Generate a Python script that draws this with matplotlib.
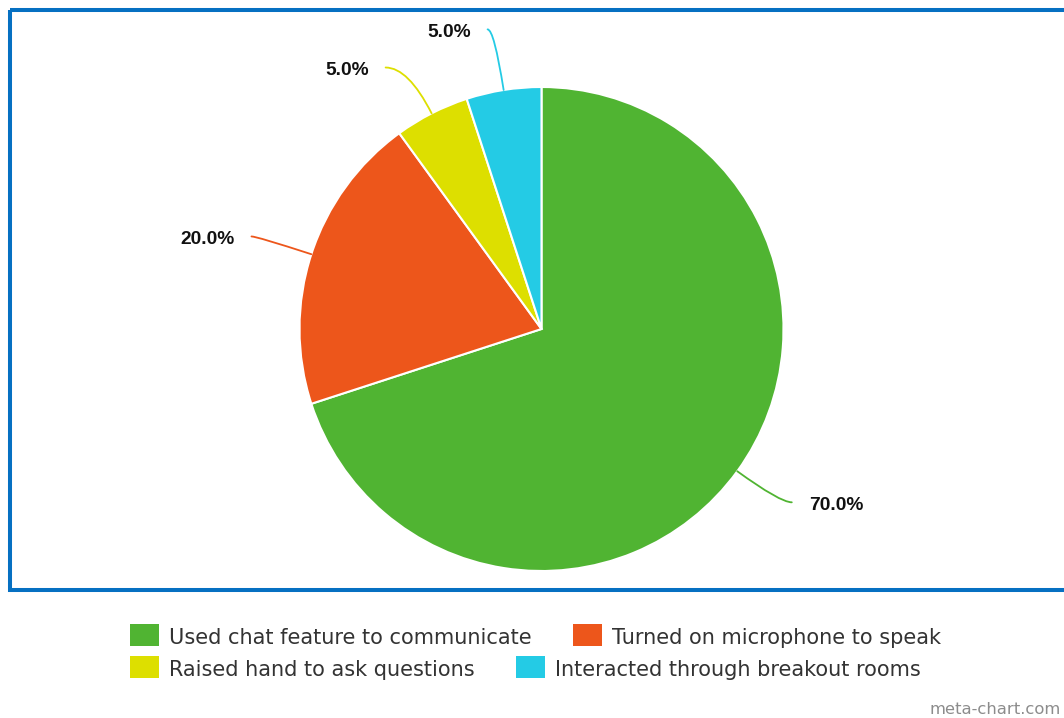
import numpy as np
import matplotlib
matplotlib.use("Agg")
import matplotlib.pyplot as plt
from matplotlib.patches import Rectangle
from matplotlib.path import Path
from matplotlib.patches import PathPatch

# ---- data ----
categories = [
    "Used chat feature to communicate",
    "Turned on microphone to speak",
    "Raised hand to ask questions",
    "Interacted through breakout rooms",
]
shares = [70.0, 20.0, 5.0, 5.0]
colors = ["#50B432", "#ED561B", "#DDDF00", "#24CBE5"]

# small angular nudges (degrees) for the outside label anchors
label_nudge = [-1.3, -0.3, -3.8, -1.2]

W, H, DPI = 1064, 718, 100
fig = plt.figure(figsize=(W / DPI, H / DPI), dpi=DPI)
fig.patch.set_facecolor("white")

# pie geometry in pixels
cx, cy, R = 541.5, 329.0, 242.0

# pie axes: data units of one radius, same scale on both axes
ax = fig.add_axes([0, 0, 1, 1])
wedges, _ = ax.pie(
    shares, colors=colors, startangle=90, counterclock=False, radius=1.0,
    wedgeprops=dict(edgecolor="white", linewidth=1.5),
)
ax.set_aspect("auto")
ax.set_xlim((0 - cx) / R, (W - cx) / R)
ax.set_ylim(-(H - cy) / R, cy / R)
ax.axis("off")

# outside labels with curved connectors
total = sum(shares)
start = 0.0
r_end = 1.258
for val, col, nudge in zip(shares, colors, label_nudge):
    frac = val / total
    mid = (start + frac / 2) * 360.0  # clockwise from top
    start += frac
    a = np.deg2rad(mid)
    p0 = np.array([np.sin(a), np.cos(a)])
    b = np.deg2rad(mid + nudge)
    end = np.array([r_end * np.sin(b), r_end * np.cos(b)])
    # control point: radial line meets the label's horizontal
    t = end[1] / np.cos(a)
    ctrl = np.array([t * np.sin(a), end[1]])
    path = Path([p0, ctrl, end], [Path.MOVETO, Path.CURVE3, Path.CURVE3])
    ax.add_patch(PathPatch(path, fill=False, edgecolor=col, linewidth=1.3,
                           capstyle="round"))
    right = end[0] >= 0
    gap = 17.0 / R
    ax.text(end[0] + (gap if right else -gap), end[1] - 3.0 / R,
            f"{val:.1f}%", ha="left" if right else "right", va="center",
            fontsize=13.8, fontweight="bold", color="#111111",
            family="Liberation Sans")

# overlay axes in pixel units (origin top-left)
ov = fig.add_axes([0, 0, 1, 1], zorder=5)
ov.set_xlim(0, W)
ov.set_ylim(H, 0)
ov.axis("off")
ov.patch.set_alpha(0)

# chart frame
ov.add_patch(Rectangle((10.3, 10.0), 1070, 579.7, fill=False,
                       edgecolor="#0670C2", linewidth=2.9))

# legend, laid out left to right with wrapping rows
renderer = fig.canvas.get_renderer()
rows = [[0, 1], [2, 3]]
row_baselines = [644.0, 676.0]
legend_left = 130.0
sw_w, sw_h = 29.0, 22.0
item_gap = 41.0
for row, base in zip(rows, row_baselines):
    x = legend_left
    for i in row:
        ov.add_patch(Rectangle((x, base - 20.0), sw_w, sw_h,
                               facecolor=colors[i], edgecolor="none"))
        txt = ov.text(x + 39.0, base, categories[i], fontsize=15.0,
                      color="#333333", ha="left", va="baseline",
                      family="DejaVu Sans")
        bb = txt.get_window_extent(renderer=renderer)
        x = bb.x1 + item_gap

# credit
ov.text(1061, 714.0, "meta-chart.com", fontsize=11.8, color="#8c8c8c",
        ha="right", va="baseline", family="DejaVu Sans")

fig.savefig("out.png", dpi=DPI)
